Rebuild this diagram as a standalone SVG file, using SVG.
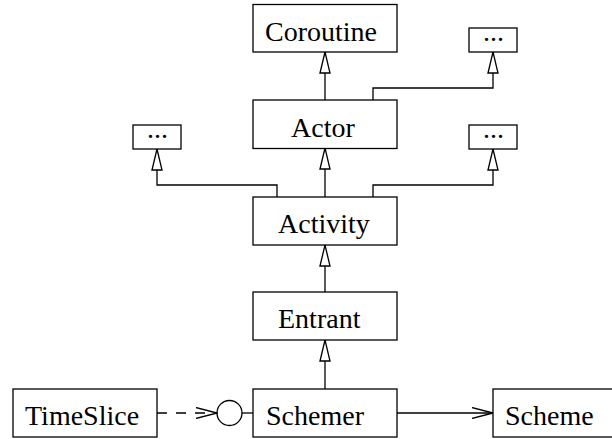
<svg xmlns="http://www.w3.org/2000/svg" width="612" height="439" viewBox="0 0 612 439">
<style>
.box{fill:#fff;stroke:#000;stroke-width:1.3}
.lbl{font-family:"Liberation Serif","Times New Roman",serif;font-size:28px;fill:#000}
.c{fill:none;stroke:#000;stroke-width:1.3}
</style>
<defs>
<marker id="tri" viewBox="0 0 23 12" markerWidth="23" markerHeight="12" refX="22" refY="6" orient="auto" markerUnits="userSpaceOnUse">
<path d="M1,1 L22,6 L1,11 Z" fill="#fff" stroke="#000" stroke-width="1.3"/>
</marker>
<marker id="open" viewBox="0 0 23 12" markerWidth="23" markerHeight="12" refX="22" refY="6" orient="auto" markerUnits="userSpaceOnUse">
<path d="M1,0.5 L22,6 L1,11.5" fill="none" stroke="#000" stroke-width="1.3"/>
</marker>
</defs>
<rect width="612" height="439" fill="#fff"/>
<g id="connectors">
<line class="c" x1="325" y1="100" x2="325" y2="52" marker-end="url(#tri)"/>
<polyline class="c" points="373,100 373,88 493,88 493,52" marker-end="url(#tri)"/>
<line class="c" x1="325" y1="197" x2="325" y2="148" marker-end="url(#tri)"/>
<polyline class="c" points="277,197 277,185 157,185 157,149" marker-end="url(#tri)"/>
<polyline class="c" points="373,197 373,185 493,185 493,149" marker-end="url(#tri)"/>
<line class="c" x1="325" y1="292" x2="325" y2="245" marker-end="url(#tri)"/>
<line class="c" x1="325" y1="389" x2="325" y2="340" marker-end="url(#tri)"/>
<line class="c" x1="157" y1="413" x2="217" y2="413" stroke-dasharray="10 9" marker-end="url(#open)"/>
<circle class="c" cx="229.5" cy="413" r="12.5"/>
<line class="c" x1="242" y1="413" x2="253" y2="413"/>
<line class="c" x1="397" y1="413" x2="493" y2="413" marker-end="url(#open)"/>
</g>
<g id="coroutine"><rect class="box" x="253" y="4.5" width="144" height="47.5"/><text class="lbl" x="265" y="41">Coroutine</text></g>
<g id="etc-top"><rect class="box" x="469" y="28" width="48" height="24"/><text class="lbl" x="483" y="41">...</text></g>
<g id="actor"><rect class="box" x="253" y="100" width="144" height="48.5"/><text class="lbl" x="291" y="137">Actor</text></g>
<g id="etc-left"><rect class="box" x="133" y="125" width="48" height="24"/><text class="lbl" x="147" y="138">...</text></g>
<g id="etc-right"><rect class="box" x="469" y="125" width="48" height="24"/><text class="lbl" x="483" y="138">...</text></g>
<g id="activity"><rect class="box" x="253" y="197" width="144" height="48"/><text class="lbl" x="278" y="233">Activity</text></g>
<g id="entrant"><rect class="box" x="253" y="292" width="144" height="48"/><text class="lbl" x="278" y="328">Entrant</text></g>
<g id="timeslice"><rect class="box" x="13" y="389" width="144" height="48"/><text class="lbl" x="25" y="425">TimeSlice</text></g>
<g id="schemer"><rect class="box" x="253" y="389" width="144" height="48"/><text class="lbl" x="266" y="425">Schemer</text></g>
<g id="scheme"><rect class="box" x="493" y="389" width="130" height="48"/><text class="lbl" x="505" y="425">Scheme</text></g>
</svg>
